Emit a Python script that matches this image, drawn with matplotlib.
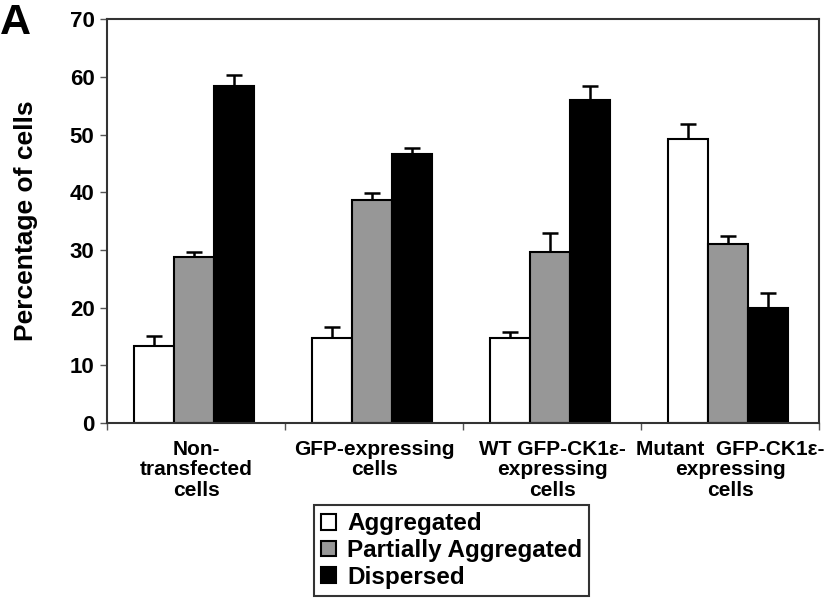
import numpy as np
import matplotlib
matplotlib.use('Agg')
from matplotlib import pyplot as plt

# Dados
grupos = ['Non-\ntransfected\ncells', 'GFP-expressing\ncells',
          'WT GFP-CK1\u03b5-\nexpressing\ncells', 'Mutant  GFP-CK1\u03b5-\nexpressing\ncells']
series = ['Aggregated', 'Partially Aggregated', 'Dispersed']
agregado = [13.4, 14.8, 14.8, 49.2]
agregado_err = [1.7, 1.8, 1.0, 2.7]
parcial = [28.8, 38.7, 29.6, 31.1]
parcial_err = [0.8, 1.2, 3.3, 1.3]
disperso = [58.5, 46.6, 56.0, 20.0]
disperso_err = [1.9, 1.0, 2.4, 2.5]
cores = ['white', '#979797', 'black']

plt.rcParams['font.family'] = ['Liberation Sans', 'DejaVu Sans']
plt.rcParams['font.weight'] = 'bold'

fig = plt.figure(figsize=(8.4, 6), dpi=100)
ax = fig.add_axes([0.1274, 0.295, 0.8476, 0.673])

x = np.arange(len(grupos))
w = 0.225
valores = [agregado, parcial, disperso]
erros = [agregado_err, parcial_err, disperso_err]
for i, (v, e) in enumerate(zip(valores, erros)):
    pos = x + (i - 1) * w - 0.01
    ax.bar(pos, v, w, color=cores[i], edgecolor='black', linewidth=1.5,
           label=series[i], zorder=2)
    ax.errorbar(pos, v, yerr=[np.zeros(len(e)), e], fmt='none', ecolor='black',
                elinewidth=1.8, capsize=6, capthick=1.8, zorder=1)

ax.set_xlim(-0.5, 3.5)
ax.set_ylim(0, 70)
ax.set_yticks(range(0, 71, 10))
ax.set_xticks(x)
ax.set_xticklabels(grupos, fontsize=15, fontweight='bold', linespacing=1.1)
ax.set_xticks(np.arange(-0.5, 4, 1), minor=True)
ax.tick_params(axis='x', which='major', length=0, pad=12)
ax.tick_params(axis='x', which='minor', length=5, width=1, color='#555555', direction='out')
ax.tick_params(axis='y', length=5, width=1, color='#555555', labelsize=16, pad=4)
for t in ax.get_yticklabels():
    t.set_fontweight('bold')
for s in ax.spines.values():
    s.set_linewidth(1.5)
    s.set_color('#333333')

ax.set_ylabel('Percentage of cells', fontsize=19, fontweight='bold')
ax.yaxis.set_label_coords(-0.097, 0.5)

fig.text(0.0, 0.995, 'A', fontsize=31, fontweight='bold', ha='left', va='top')

leg = fig.legend(loc='upper left', bbox_to_anchor=(0.374, 0.158), fontsize=17.5,
                 frameon=True, fancybox=False, edgecolor='#333333', framealpha=1,
                 handlelength=0.6, handleheight=0.6, handletextpad=0.45,
                 labelspacing=0.15, borderpad=0.3, borderaxespad=0)
leg.get_frame().set_linewidth(1.5)

fig.savefig('out.png', dpi=100)
